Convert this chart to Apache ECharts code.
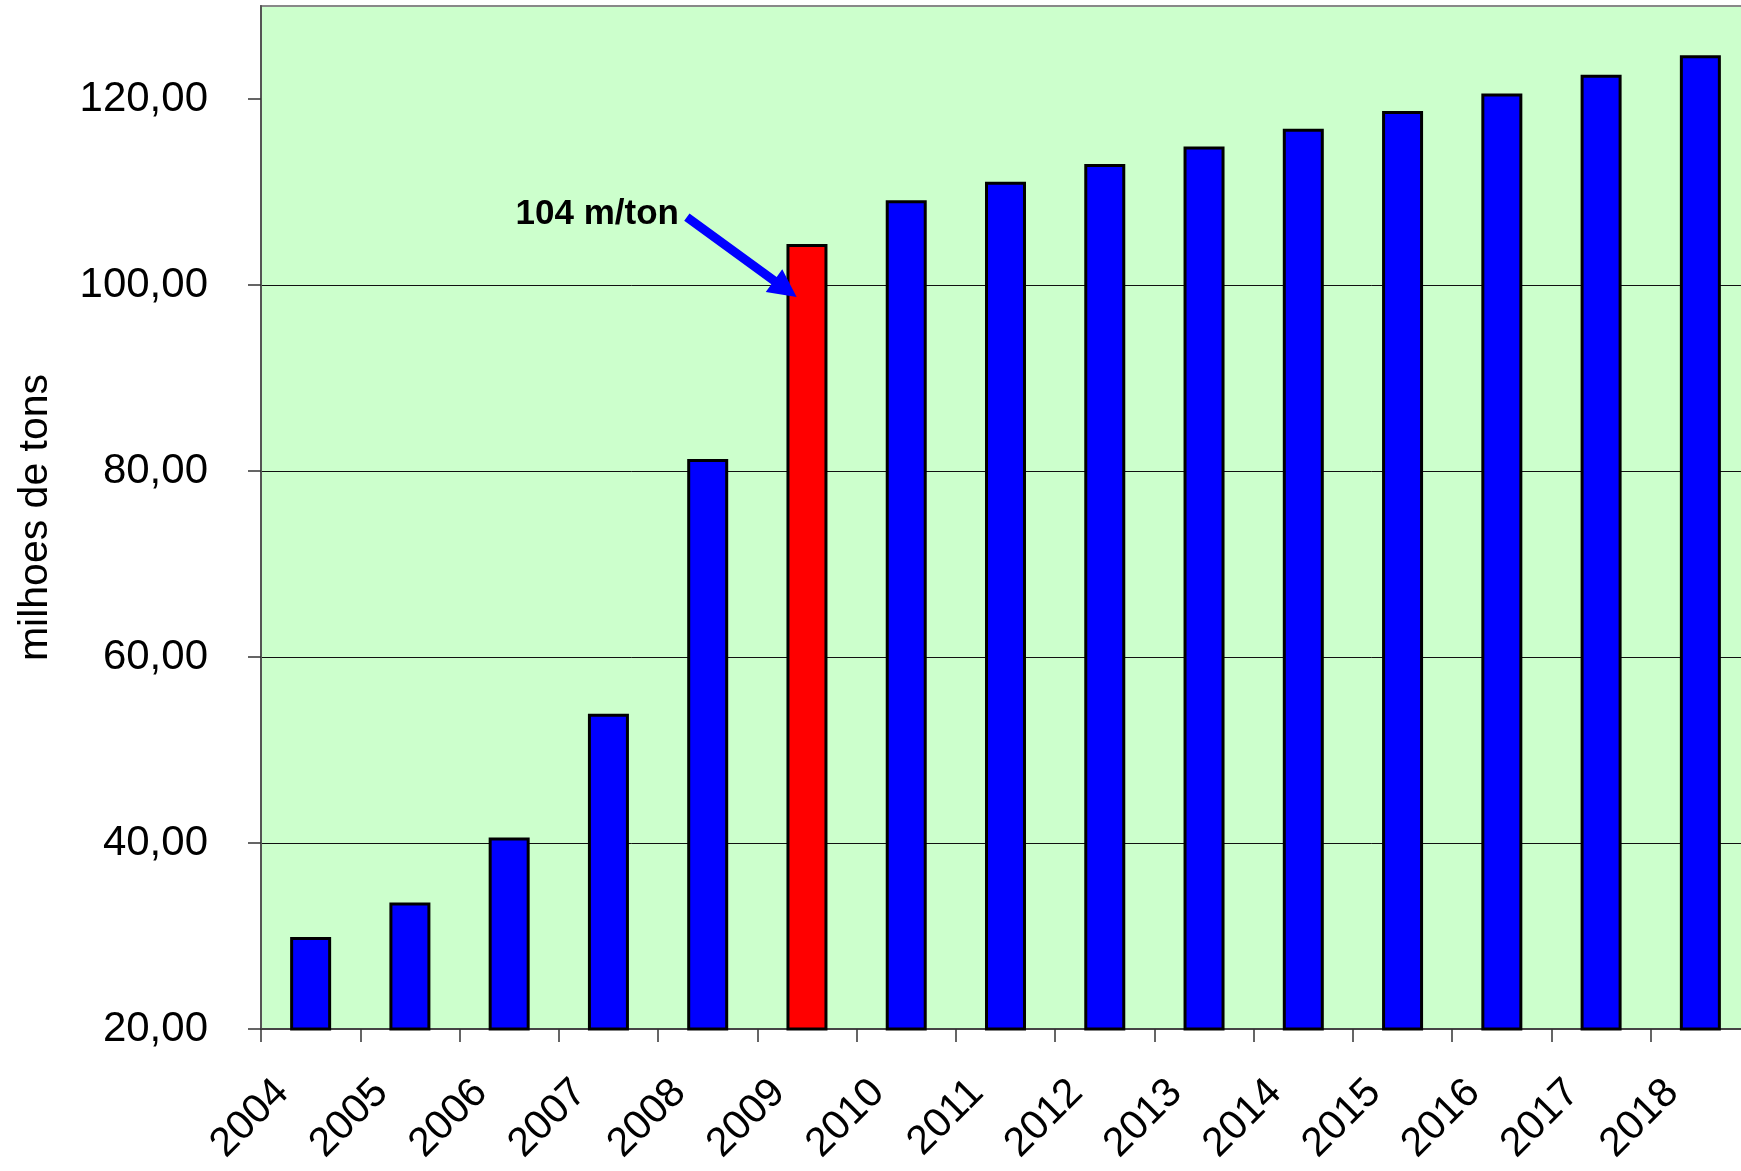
<!DOCTYPE html>
<html>
<head>
<meta charset="utf-8">
<script src="https://cdn.jsdelivr.net/npm/echarts@6/dist/echarts.min.js"></script>
<style>
  html, body { margin: 0; padding: 0; background: #fff; }
  #chart-container { width: 1741px; height: 1171px; }
</style>
</head>
<body>
<div id="chart-container"></div>
<script>
// production in million tons
const years = ["2004", "2005", "2006", "2007", "2008", "2009", "2010", "2011",
  "2012", "2013", "2014", "2015", "2016", "2017", "2018"];
const values = [29.9, 33.6, 40.6, 53.9, 81.3, 104.4, 109.1, 111.1,
  113.0, 114.9, 116.8, 118.7, 120.6, 122.6, 124.7];
const highlightYear = "2009";
const yTicks = [20, 40, 60, 80, 100, 120];

// annotation pointing at the highlighted bar
const noteText = "104 m/ton";
const noteTextValue = 107.6;
const arrowTailValue = 107.3;
const arrowTipValue = 98.7;

const FONT = "'Liberation Sans', Arial, sans-serif";

var chartDom = document.getElementById("chart-container");
var myChart = echarts.init(chartDom, null, { renderer: "canvas" });

var option = {
  backgroundColor: "#ffffff",
  animation: false,
  grid: {
    left: 261,
    top: 6,
    width: 1489,
    bottom: 142,
    outerBoundsMode: "none",
    containLabel: false,
    show: true,
    backgroundColor: "#CCFFCC",
    borderColor: "#888888",
    borderWidth: 2
  },
  xAxis: {
    type: "category",
    data: years,
    boundaryGap: true,
    axisLine: { show: true, lineStyle: { color: "#444", width: 2 } },
    axisTick: { show: true, inside: false, length: 13, lineStyle: { color: "#333", width: 1.5 } },
    axisLabel: {
      interval: 0,
      rotate: 45,
      margin: 29,
      padding: [0, 40, 0, 0],
      fontFamily: FONT,
      fontSize: 41,
      color: "#000"
    },
    splitLine: { show: false }
  },
  yAxis: {
    type: "value",
    min: 20,
    max: 130,
    interval: 20,
    name: "milhoes de tons",
    nameLocation: "middle",
    nameRotate: 90,
    nameGap: 205,
    nameTextStyle: { fontFamily: FONT, fontSize: 41, color: "#000" },
    axisLine: { show: true, lineStyle: { color: "#555", width: 2 } },
    axisTick: { show: true, length: 13, customValues: yTicks, lineStyle: { color: "#333", width: 1.5 } },
    axisLabel: {
      margin: 53,
      showMaxLabel: false,
      fontFamily: FONT,
      fontSize: 42,
      color: "#000",
      formatter: function (v) {
        return v > 120 ? "" : v.toFixed(2).replace(".", ",");
      }
    },
    splitLine: { show: true, showMaxLine: false, lineStyle: { color: "#111", width: 1 } }
  },
  series: [
    {
      type: "bar",
      barWidth: 41,
      data: values.map(function (v, i) {
        if (years[i] === highlightYear) {
          return { value: v, itemStyle: { color: "#FF0000" } };
        }
        return v;
      }),
      itemStyle: { color: "#0000FF", borderColor: "#000", borderWidth: 3 }
    }
  ]
};

myChart.setOption(option);

// arrow + label, positioned from the axes
function drawNote() {
  const idx = years.indexOf(highlightYear);
  const c0 = myChart.convertToPixel({ gridIndex: 0 }, [idx, arrowTipValue]);
  const c1 = myChart.convertToPixel({ gridIndex: 0 }, [idx + 1, arrowTipValue]);
  const band = c1[0] - c0[0];

  const tip = [c0[0] - 0.104 * band, c0[1]];
  const tailY = myChart.convertToPixel({ gridIndex: 0 }, [idx, arrowTailValue])[1];
  const tail = [c0[0] - 1.21 * band, tailY];
  const textY = myChart.convertToPixel({ gridIndex: 0 }, [idx, noteTextValue])[1];
  const textX = c0[0] - 1.29 * band;

  const dx = tip[0] - tail[0], dy = tip[1] - tail[1];
  const len = Math.sqrt(dx * dx + dy * dy);
  const ux = dx / len, uy = dy / len;
  const nx = -uy, ny = ux;
  const shaft = 4.5, headLen = 28, headHalf = 14;
  const base = [tip[0] - ux * headLen, tip[1] - uy * headLen];

  const pts = [
    [tail[0] + nx * shaft, tail[1] + ny * shaft],
    [base[0] + nx * shaft, base[1] + ny * shaft],
    [base[0] + nx * headHalf, base[1] + ny * headHalf],
    tip,
    [base[0] - nx * headHalf, base[1] - ny * headHalf],
    [base[0] - nx * shaft, base[1] - ny * shaft],
    [tail[0] - nx * shaft, tail[1] - ny * shaft]
  ];

  myChart.setOption({
    graphic: [
      {
        type: "polygon",
        shape: { points: pts },
        style: { fill: "#0000FF" },
        z: 100
      },
      {
        type: "text",
        x: textX,
        y: textY,
        style: {
          text: noteText,
          fontFamily: FONT,
          fontSize: 35,
          fontWeight: "bold",
          fill: "#000",
          align: "right",
          verticalAlign: "middle"
        },
        z: 100
      }
    ]
  });
}

drawNote();
</script>
</body>
</html>
